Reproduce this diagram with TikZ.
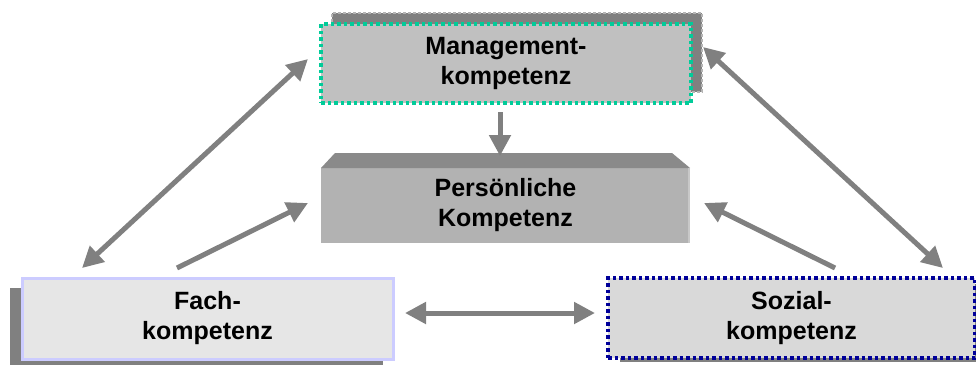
\documentclass[tikz,border=0pt]{standalone}
\usepackage{fontspec}
\setmainfont{Liberation Sans}
\usetikzlibrary{arrows.meta,calc}

\definecolor{arrowgray}{HTML}{808080}
\definecolor{shadowgray}{HTML}{808080}
\definecolor{shadowdash}{HTML}{B4B4B4}
\definecolor{mgmtfill}{HTML}{C0C0C0}
\definecolor{mgmtline}{HTML}{00CC99}
\definecolor{persfront}{HTML}{B2B2B2}
\definecolor{perstop}{HTML}{8A8A8A}
\definecolor{persedge}{HTML}{C8C8C8}
\definecolor{fachfill}{HTML}{E6E6E6}
\definecolor{fachline}{HTML}{CCCCFF}
\definecolor{sozfill}{HTML}{D9D9D9}
\definecolor{sozline}{HTML}{000099}

\tikzset{
  label text/.style={font=\fontsize{25}{30}\selectfont\bfseries, align=center, text=black},
  plainbox/.style={rectangle, inner sep=0pt, outer sep=0pt},
  shadowbox/.style={plainbox, fill=shadowgray},
  dotline/.style={line width=3.5pt, dash pattern=on 3.5pt off 3pt},
  conn/.style={draw=arrowgray, line width=5pt},
  twoway/.style={conn, {Triangle[length=21pt,width=21pt]}-{Triangle[length=21pt,width=21pt]}},
  oneway/.style={conn, -{Triangle[length=21pt,width=21pt]}},
}

\begin{document}
\begin{tikzpicture}[x=1pt,y=-1pt]
\useasboundingbox (0,0) rectangle (976,365);
\clip (0,0) rectangle (976,365);

% Management box: shadow behind, dotted front
\node[shadowbox, draw=shadowdash, line width=1.5pt, dash pattern=on 3pt off 2pt,
      minimum width=370pt, minimum height=79pt] (mgmtshadow) at (517,52.5) {};
\node[plainbox, fill=mgmtfill, draw=mgmtline, dotline,
      minimum width=370pt, minimum height=79pt, label text] (mgmt) at (506,63.5)
      {Management-\\kompetenz};

% Persoenliche Kompetenz: block with bevelled top
\node[plainbox, fill=persfront, minimum width=369pt, minimum height=75pt, label text]
      (pers) at (505.5,205.5) {Persönliche\\Kompetenz};
\fill[perstop] (pers.north west) -- ++(14,-15) -- ($(pers.north east)+(-18,-15)$)
      -- (pers.north east) -- cycle;
\draw[persedge, line width=1.5pt] ($(pers.north east)+(-1,0)$) -- ($(pers.south east)+(-1,0)$);

% Fachkompetenz
\node[shadowbox, minimum width=373pt, minimum height=77pt] (fachshadow) at (196.5,326.5) {};
\node[plainbox, fill=fachfill, draw=fachline, line width=3pt,
      minimum width=371pt, minimum height=81pt, label text] (fach) at (207.5,318.5)
      {Fach-\\kompetenz};

% Sozialkompetenz
\node[shadowbox, minimum width=367pt, minimum height=78pt] (sozshadow) at (803.5,323) {};
\node[plainbox, fill=sozfill, draw=sozline, dotline,
      minimum width=367pt, minimum height=80pt, label text] (soz) at (791.5,318)
      {Sozial-\\kompetenz};

% Connector end points
\coordinate (fm1) at (82,268);   \coordinate (fm2) at (308,59);
\coordinate (fp1) at (177,268);  \coordinate (fp2) at (308,203);
\coordinate (ms1) at (703,47);   \coordinate (ms2) at (943,268);
\coordinate (sp1) at (835,268);  \coordinate (sp2) at (704,203);
\coordinate (fs1) at (405,313);  \coordinate (fs2) at (595,313);
\coordinate (mp1) at (500,112);  \coordinate (mp2) at (500,156);

% Connectors
\draw[twoway] (fm1) -- (fm2);
\draw[oneway] (fp1) -- (fp2);
\draw[twoway] (ms1) -- (ms2);
\draw[oneway] (sp1) -- (sp2);
\draw[twoway] (fs1) -- (fs2);
\draw[oneway] (mp1) -- (mp2);
\end{tikzpicture}
\end{document}
